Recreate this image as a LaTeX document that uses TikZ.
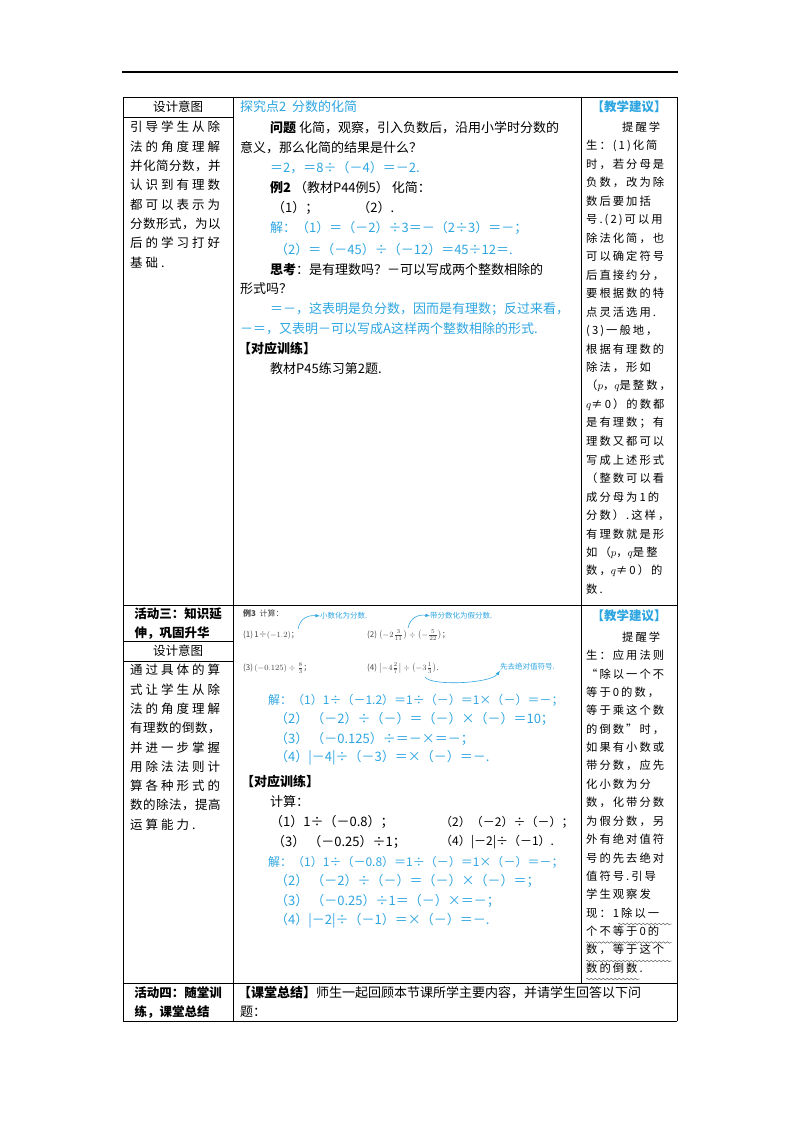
\documentclass[tikz,border=0pt]{standalone}
\usepackage{fontspec}
\usepackage{amsmath}
\setmainfont{Noto Sans CJK SC}
\newfontfamily\lsa{Noto Sans CJK SC}[LetterSpace=24]
\newfontfamily\lsc{Noto Sans CJK SC}[LetterSpace=4]
\newfontfamily\lsb{Noto Sans CJK SC}[LetterSpace=18]
\usetikzlibrary{decorations.pathmorphing}
\definecolor{tb}{RGB}{45,165,225}
\definecolor{tg}{RGB}{70,70,70}
\tikzset{
  t/.style={anchor=west,inner sep=0pt,font=\fontsize{13}{15}\selectfont},
  ts/.style={anchor=west,inner sep=0pt,font=\fontsize{12}{14}\selectfont},
  tl/.style={anchor=west,inner sep=0pt,font=\lsa\fontsize{12.5}{14}\selectfont},
  tk/.style={anchor=west,inner sep=0pt,font=\lsc\fontsize{12.5}{14}\selectfont},
  tr/.style={anchor=west,inner sep=0pt,font=\lsb\fontsize{11.3}{13}\selectfont},
  hd/.style={anchor=center,inner sep=0pt,font=\fontsize{12.5}{14}\selectfont},
  bl/.style={t,text=tb},
  bs/.style={ts,text=tb},
  sm/.style={anchor=west,inner sep=0pt,text=tg,font=\fontsize{8}{9}\selectfont},
  an/.style={anchor=west,inner sep=0pt,text=tb,font=\fontsize{7.5}{9}\selectfont\itshape},
  rule/.style={line width=0.9pt},
  wav/.style={decorate,decoration={snake,amplitude=0.8pt,segment length=4pt},line width=0.4pt,tg},
  arr/.style={tb,line width=0.6pt,-latex}
}
\begin{document}
\begin{tikzpicture}[x=1pt,y=-1pt]
\useasboundingbox (0,0) rectangle (800,1132);
% rules
\draw[line width=1.2pt] (122,72) -- (678,72);
\draw[rule] (123,97) -- (677,97);
\draw[rule] (123,117) -- (233,117);
\draw[rule] (123,605) -- (677,605);
\draw[rule] (123,641) -- (233,641);
\draw[rule] (123,661) -- (233,661);
\draw[rule] (123,983) -- (677,983);
\draw[rule] (123,1021) -- (677,1021);
\draw[rule] (123,97) -- (123,1021);
\draw[rule] (233,97) -- (233,1021);
\draw[rule] (581,97) -- (581,983);
\draw[rule] (677,97) -- (677,1021);
% ===== row 1 left
\node[hd] (h1) at (178,107) {设计意图};
\node[tl] (l1) at (130,127) {引导学生从除};
\node[tl] (l2) at (130,146.3) {法的角度理解};
\node[tk] (l3) at (130,165.6) {并化简分数，并};
\node[tl] (l4) at (130,185) {认识到有理数};
\node[tl] (l5) at (130,204.3) {都可以表示为};
\node[tk] (l6) at (130,223.6) {分数形式，为以};
\node[tl] (l7) at (130,243) {后的学习打好};
\node[tl] (l8) at (130,262.3) {基础.};
% ===== row 1 middle
\node[bl] (m0) at (240,107) {探究点2\ \ 分数的化简};
\node[t] (m1) at (270,128) {\textbf{问题}\ 化简，观察，引入负数后，沿用小学时分数的};
\node[t] (m2) at (240,148) {意义，那么化简的结果是什么？};
\node[bl] (m3) at (270,168) {＝2，＝8÷（－4）＝－2.};
\node[t] (m4) at (270,188) {\textbf{例2}\ （教材P44例5）\ 化简：};
\node[t] (m5) at (272,208) {（1）；\qquad\quad（2）.};
\node[bl] (m6) at (270,228) {解：（1）＝（－2）÷3＝－（2÷3）＝－；};
\node[bl] (m7) at (275,250) {（2）＝（－45）÷（－12）＝45÷12＝.};
\node[t] (m8) at (270,270) {\textbf{思考}：是有理数吗？－可以写成两个整数相除的};
\node[t] (m9) at (240,289) {形式吗？};
\node[bl] (m10) at (270,309) {＝－，这表明是负分数，因而是有理数；反过来看，};
\node[bl] (m11) at (240,329) {－＝，又表明－可以写成A这样两个整数相除的形式.};
\node[t] (m12) at (238,349) {\textbf{【对应训练】}};
\node[t] (m13) at (270,369) {教材P45练习第2题.};
% ===== row 1 right
\node[hd,text=tb] (rh1) at (629,107) {\textbf{【教学建议】}};
\node[tr] at (622,127) {提醒学};
\foreach \s [count=\i] in {生：(1)化简,时，若分母是,负数，改为除,数后要加括,号.(2)可以用,除法化简，也,可以确定符号,后直接约分，,要根据数的特,点灵活选用.,(3)一般地，,根据有理数的,除法，形如,（$p$，$q$是整数，,$q$≠0）的数都,是有理数；有,理数又都可以,写成上述形式,（整数可以看,成分母为1的,分数）.这样，,有理数就是形,如（$p$，$q$是整,数，$q$≠0）的,数.}
  \node[tr] at (586,127+\i*18.5) {\s};
% ===== row 2 left
\node[hd] (a1) at (178,614) {\textbf{活动三：知识延}};
\node[hd] (a2) at (172,633) {\textbf{伸，巩固升华}};
\node[hd] (h2) at (178,651) {设计意图};
\node[tl] at (130,670) {通过具体的算};
\node[tl] at (130,689.3) {式让学生从除};
\node[tl] at (130,708.6) {法的角度理解};
\node[tk] at (130,728) {有理数的倒数，};
\node[tl] at (130,747.3) {并进一步掌握};
\node[tl] at (130,766.6) {用除法法则计};
\node[tl] at (130,786) {算各种形式的};
\node[tk] at (130,805.3) {数的除法，提高};
\node[tl] at (130,824.6) {运算能力.};
% ===== row 2 middle: example 3
\node[sm] (e0) at (243,613) {\textbf{例3}\ \ 计算：};
\node[sm] (e1) at (243,635) {(1)\,1÷$\left(-1.2\right)$；};
\node[sm] (e2) at (367,635) {(2)\ $\left(-2\tfrac{3}{11}\right)\div\left(-\tfrac{5}{22}\right)$；};
\node[sm] (e3) at (243,668) {(3)\,$(-0.125)\div\tfrac{8}{3}$；};
\node[sm] (e4) at (367,668) {(4)\ $\left|-4\tfrac{2}{7}\right|\div\left(-3\tfrac{1}{3}\right)$.};
\node[an] (n1) at (320,616) {小数化为分数.};
\node[an] (n2) at (430,616) {带分数化为假分数.};
\node[an] (n3) at (500,667) {先去绝对值符号.};
\coordinate (c1) at (298,629);
\coordinate (c2) at (408,628);
\coordinate (c3) at (425,677);
\draw[arr] (c1) .. controls (300,618) and (308,615) .. (n1.west);
\draw[arr] (c2) .. controls (410,618) and (418,614) .. (n2.west);
\draw[arr] (c3) .. controls (430,686) and (490,684) .. (n3.south west);
\node[bs] at (268,700) {解：（1）1÷（－1.2）＝1÷（－）＝1×（－）＝－；};
\node[bl] at (275,719) {（2）\ （－2）÷（－）＝（－）×（－）＝10；};
\node[bl] at (275,739) {（3）\ （－0.125）÷＝－×＝－；};
\node[bl] at (275,758) {（4）|－4|÷（－3）＝×（－）＝－.};
\node[t] at (241,782) {\textbf{【对应训练】}};
\node[t] at (270,802) {计算：};
\node[t] at (270,822) {（1）1÷（－0.8）；};
\node[ts] at (440,822) {（2）（－2）÷（－）；};
\node[t] at (272,842) {（3）\ （－0.25）÷1；};
\node[ts] at (440,842) {（4）|－2|÷（－1）.};
\node[bs] at (268,862) {解：（1）1÷（－0.8）＝1÷（－）＝1×（－）＝－；};
\node[bl] at (275,881) {（2）\ （－2）÷（－）＝（－）×（－）＝；};
\node[bl] at (275,901) {（3）\ （－0.25）÷1＝（－）×＝－；};
\node[bl] at (275,921) {（4）|－2|÷（－1）＝×（－）＝－.};
% ===== row 2 right
\node[hd,text=tb] (rh2) at (629,616) {\textbf{【教学建议】}};
\node[tr] at (622,637) {提醒学};
\foreach \s [count=\i] in {生：应用法则,“除以一个不,等于0的数，,等于乘这个数,的倒数”时，,如果有小数或,带分数，应先,化小数为分,数，化带分数,为假分数，另,外有绝对值符,号的先去绝对,值符号.引导,学生观察发,现：1除以一,个不等于0的,数，等于这个,数的倒数.}
  \node[tr] (q\i) at (586,637+\i*18.4) {\s};
\draw[wav] (618,924) -- (672,924);
\draw[wav] (586,942.5) -- (672,942.5);
\draw[wav] (586,961) -- (672,961);
\draw[wav] (586,979) -- (640,979);
% ===== row 3
\node[hd] at (178,993) {\textbf{活动四：随堂训}};
\node[hd] at (172,1012) {\textbf{练，课堂总结}};
\node[t] at (238,993) {\textbf{【课堂总结】}师生一起回顾本节课所学主要内容，并请学生回答以下问};
\node[t] at (240,1012) {题：};
\end{tikzpicture}
\end{document}
